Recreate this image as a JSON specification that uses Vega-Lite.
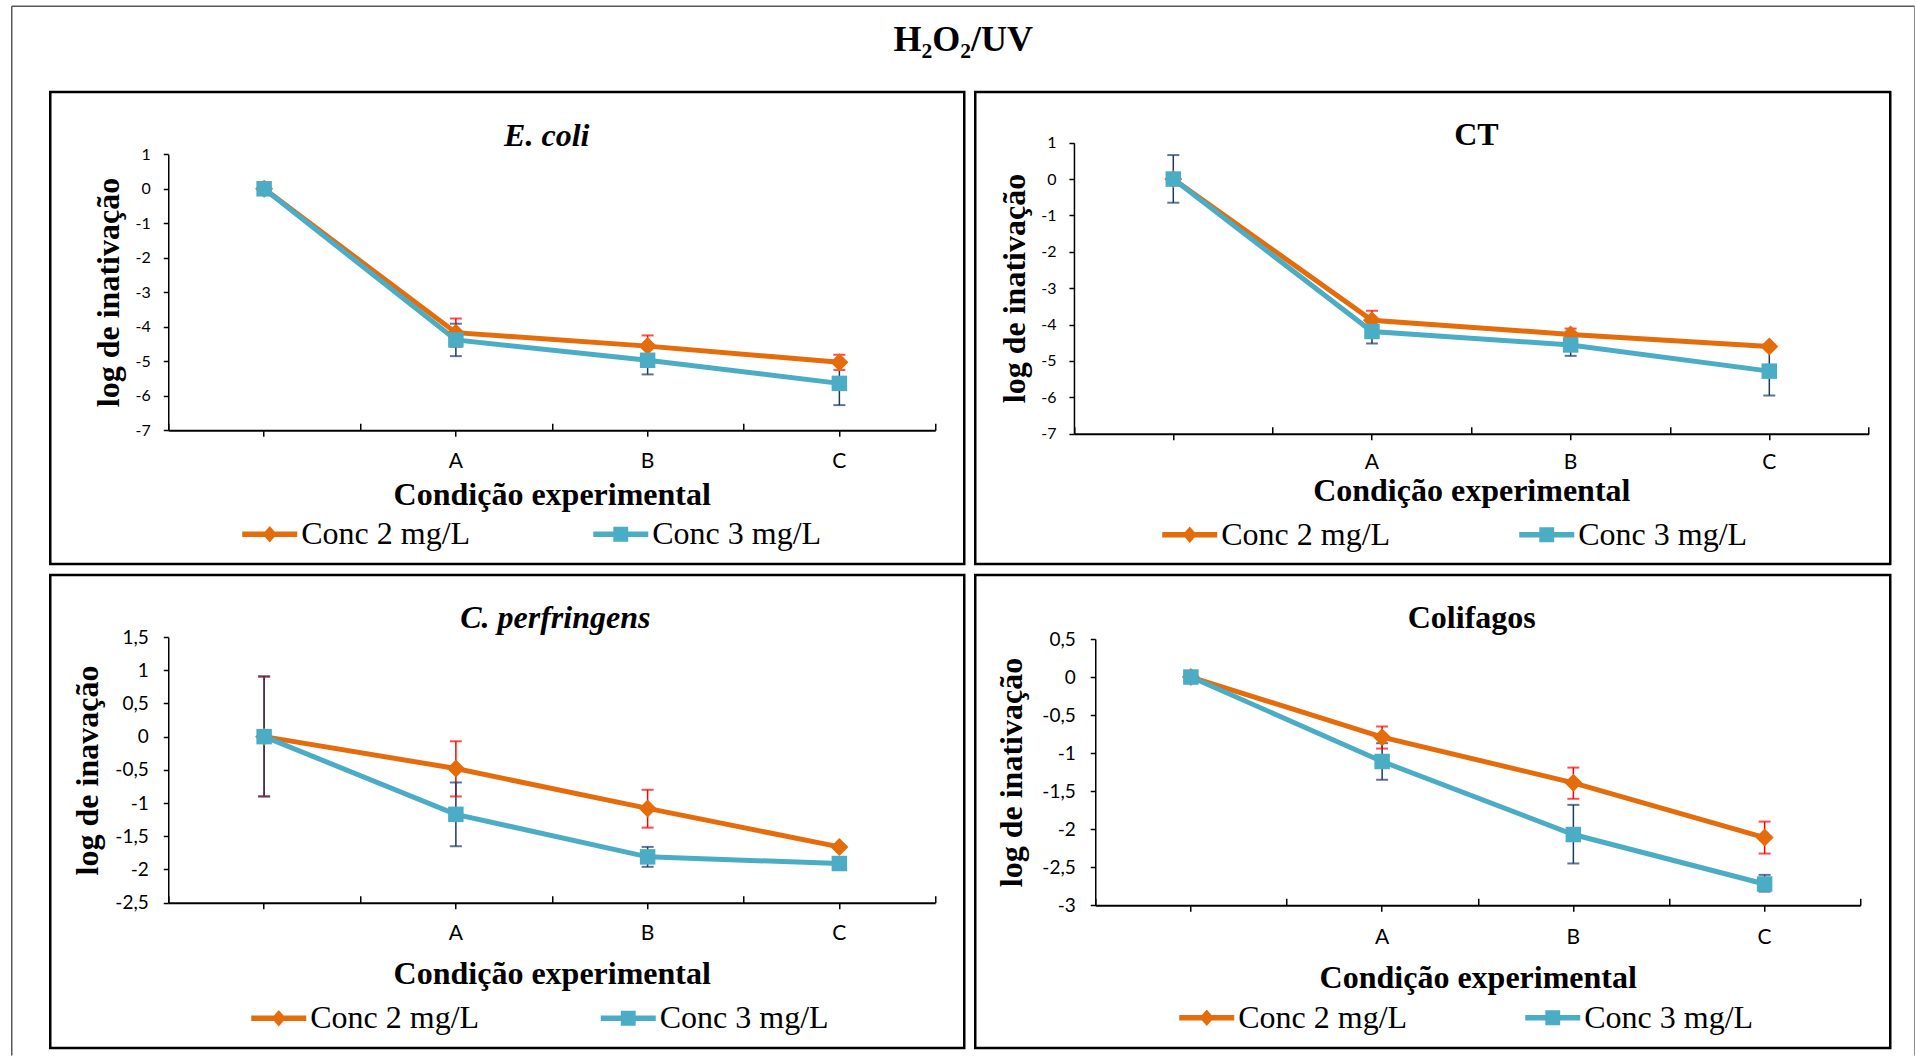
{
  "$schema": "https://vega.github.io/schema/vega-lite/v6.json",
  "background": "white",
  "padding": {"left": 9.25, "top": 4, "right": 0, "bottom": 0},
  "columns": 2,
  "bounds": "flush",
  "spacing": {"row": 11, "column": 11},
  "resolve": {"scale": {"color": "independent"}, "legend": {"color": "independent"}},
  "config": {
    "view": {"stroke": "black", "strokeWidth": 2.5},
    "axis": {"domainColor": "black", "tickColor": "black", "labelColor": "black", "titleColor": "black", "grid": false, "labelFont": "Lato", "tickWidth": 1.5},
    "legend": {"labelFont": "Liberation Serif", "labelFontSize": 32, "labelColor": "black"}
  },
  "concat": [
    {
      "width": 914, "height": 472,
      "data": {"values": [
        {"cond": "0", "series": "Conc 2 mg/L", "value": 0, "lo": -0.05, "hi": 0.05},
        {"cond": "A", "series": "Conc 2 mg/L", "value": -4.17, "lo": -4.58, "hi": -3.76},
        {"cond": "B", "series": "Conc 2 mg/L", "value": -4.56, "lo": -4.87, "hi": -4.25},
        {"cond": "C", "series": "Conc 2 mg/L", "value": -5.03, "lo": -5.25, "hi": -4.81},
        {"cond": "0", "series": "Conc 3 mg/L", "value": 0, "lo": -0.05, "hi": 0.05},
        {"cond": "A", "series": "Conc 3 mg/L", "value": -4.38, "lo": -4.85, "hi": -3.91},
        {"cond": "B", "series": "Conc 3 mg/L", "value": -4.97, "lo": -5.38, "hi": -4.56},
        {"cond": "C", "series": "Conc 3 mg/L", "value": -5.64, "lo": -6.27, "hi": -5.01}
      ]},
      "resolve": {"scale": {"x": "independent", "y": "independent"}, "axis": {"x": "independent", "y": "independent"}},
      "layer": [
        {
          "mark": {"type": "point", "opacity": 0},
          "encoding": {
            "x": {"field": "cond", "type": "nominal", "scale": {"type": "band", "domain": ["0", "A", "B", "C"], "range": [-39, 1864], "paddingInner": 0, "paddingOuter": 0},
                  "axis": {"orient": "top", "offset": 86.3, "ticks": false, "labels": false, "domain": true, "domainColor": "#595959", "domainWidth": 1.5, "title": "H₂O₂/UV", "titleX": 912.5, "titleY": 45.3, "titleAlign": "center", "titleBaseline": "alphabetic", "titleFont": "Liberation Serif", "titleFontSize": 36, "titleFontWeight": "bold"}},
            "y": {"field": "value", "type": "quantitative", "scale": {"domain": [0, 1], "range": [963, -86.3], "nice": false, "zero": false, "clamp": true},
                  "axis": {"orient": "left", "offset": 39, "ticks": false, "labels": false, "domain": true, "domainColor": "#595959", "domainWidth": 1.5, "title": null}}
          }
        },
        {
          "mark": {"type": "point", "opacity": 0},
          "encoding": {
            "x": {"field": "cond", "type": "nominal", "scale": {"type": "band", "domain": ["0", "A", "B", "C"], "range": [118, 885], "paddingInner": 0, "paddingOuter": 0},
                  "axis": {"orient": "bottom", "offset": -133.7, "tickBand": "extent", "tickSize": -7, "labels": false, "domain": false, "title": "E. coli", "titleX": 496, "titleY": -285.3, "titleAlign": "center", "titleBaseline": "alphabetic", "titleFont": "Liberation Serif", "titleFontSize": 32, "titleFontWeight": "bold", "titleFontStyle": "italic"}}
          }
        },
        {
          "encoding": {
            "x": {"field": "cond", "type": "nominal", "scale": {"type": "band", "domain": ["0", "A", "B", "C"], "range": [118, 885], "paddingInner": 0, "paddingOuter": 0},
                  "axis": {"orient": "bottom", "offset": -133.7, "title": "Condição experimental", "titleY": 74, "titleBaseline": "alphabetic", "titleFont": "Liberation Serif", "titleFontSize": 32, "titleFontWeight": "bold", "labelExpr": "datum.value == '0' ? '' : datum.value", "labelAngle": 0, "labelFontSize": 21, "labelBaseline": "alphabetic", "labelPadding": 31, "tickSize": 6, "domainWidth": 2}},
            "y": {"field": "value", "type": "quantitative", "scale": {"domain": [-7, 1], "range": [338.3, 62.3], "nice": false, "zero": false},
                  "axis": {"orient": "left", "offset": -118, "values": [-7, -6, -5, -4, -3, -2, -1, 0, 1], "labelExpr": "replace(toString(datum.value), '.', ',')", "labelFontSize": 16, "labelPadding": 13, "tickSize": 5, "domainWidth": 1.5, "title": "log de inativação", "titleX": -60, "titleY": 200, "titleBaseline": "middle", "titleFont": "Liberation Serif", "titleFontSize": 32, "titleFontWeight": "bold"}}
          },
          "layer": [
            {"mark": {"type": "rule", "strokeWidth": 1.5}, "encoding": {"y": {"field": "lo", "type": "quantitative"}, "y2": {"field": "hi"}, "color": {"condition": {"test": "datum.series == 'Conc 2 mg/L'", "value": "#FF0000"}, "value": "#1F3864"}}},
            {"mark": {"type": "tick", "size": 12, "thickness": 2}, "encoding": {"y": {"field": "lo", "type": "quantitative"}, "color": {"condition": {"test": "datum.series == 'Conc 2 mg/L'", "value": "#FF0000"}, "value": "#1F3864"}}},
            {"mark": {"type": "tick", "size": 12, "thickness": 2}, "encoding": {"y": {"field": "hi", "type": "quantitative"}, "color": {"condition": {"test": "datum.series == 'Conc 2 mg/L'", "value": "#FF0000"}, "value": "#1F3864"}}},
            {"mark": {"type": "line", "strokeWidth": 5}, "encoding": {"color": {"field": "series", "type": "nominal", "scale": {"domain": ["Conc 2 mg/L", "Conc 3 mg/L"], "range": ["#E46C0A", "#4BACC6"]},
              "legend": {"orient": "none", "legendX": 192, "legendY": 414.5, "direction": "horizontal", "title": null, "symbolSize": 3025, "columnPadding": 123, "labelOffset": 4, "padding": 0, "labelLimit": 0,
                "encode": {"symbols": {"update": {"shape": {"signal": "datum.value == 'Conc 2 mg/L' ? 'M-1,-0.1H1V0.1H-1Z M0,-0.3L0.26,0L0,0.3L-0.26,0Z' : 'M-1,-0.1H1V0.1H-1Z M-0.27,-0.27H0.27V0.27H-0.27Z'"}, "fill": {"signal": "datum.value == 'Conc 2 mg/L' ? '#E46C0A' : '#4BACC6'"}, "fillOpacity": {"value": 1}, "stroke": {"value": "transparent"}, "strokeWidth": {"value": 0}, "size": {"value": 3025}, "opacity": {"value": 1}}}}}}}},
            {"mark": {"type": "point", "filled": true, "opacity": 1, "strokeWidth": 0}, "encoding": {"color": {"field": "series", "type": "nominal", "scale": {"domain": ["Conc 2 mg/L", "Conc 3 mg/L"], "range": ["#E46C0A", "#4BACC6"]}, "legend": null}, "shape": {"field": "series", "type": "nominal", "scale": {"domain": ["Conc 2 mg/L", "Conc 3 mg/L"], "range": ["diamond", "square"]}, "legend": null}, "size": {"condition": {"test": "datum.series == 'Conc 2 mg/L'", "value": 324}, "value": 240}}}
          ]
        }
      ]
    },
    {
      "width": 915, "height": 472,
      "data": {"values": [
        {"cond": "0", "series": "Conc 2 mg/L", "value": 0, "lo": -0.05, "hi": 0.05},
        {"cond": "A", "series": "Conc 2 mg/L", "value": -3.88, "lo": -4.14, "hi": -3.62},
        {"cond": "B", "series": "Conc 2 mg/L", "value": -4.27, "lo": -4.43, "hi": -4.11},
        {"cond": "C", "series": "Conc 2 mg/L", "value": -4.6, "lo": -4.65, "hi": -4.55},
        {"cond": "0", "series": "Conc 3 mg/L", "value": 0, "lo": -0.65, "hi": 0.66},
        {"cond": "A", "series": "Conc 3 mg/L", "value": -4.19, "lo": -4.52, "hi": -3.86},
        {"cond": "B", "series": "Conc 3 mg/L", "value": -4.56, "lo": -4.86, "hi": -4.26},
        {"cond": "C", "series": "Conc 3 mg/L", "value": -5.28, "lo": -5.95, "hi": -4.61}
      ]},
      "resolve": {"scale": {"x": "independent", "y": "independent"}, "axis": {"x": "independent", "y": "independent"}},
      "layer": [
        {
          "mark": {"type": "point", "opacity": 0},
          "encoding": {
            "y": {"field": "value", "type": "quantitative", "scale": {"domain": [0, 1], "range": [963, -86.3], "nice": false, "zero": false, "clamp": true},
                  "axis": {"orient": "right", "offset": 24, "ticks": false, "labels": false, "domain": true, "domainColor": "#8c8c8c", "domainWidth": 1.5, "title": null}}
          }
        },
        {
          "mark": {"type": "point", "opacity": 0},
          "encoding": {
            "x": {"field": "cond", "type": "nominal", "scale": {"type": "band", "domain": ["0", "A", "B", "C"], "range": [98.7, 893.4], "paddingInner": 0, "paddingOuter": 0},
                  "axis": {"orient": "bottom", "offset": -130.3, "tickBand": "extent", "tickSize": -7, "labels": false, "domain": false, "title": "CT", "titleX": 500.7, "titleY": -289.7, "titleAlign": "center", "titleBaseline": "alphabetic", "titleFont": "Liberation Serif", "titleFontSize": 32, "titleFontWeight": "bold"}}
          }
        },
        {
          "encoding": {
            "x": {"field": "cond", "type": "nominal", "scale": {"type": "band", "domain": ["0", "A", "B", "C"], "range": [98.7, 893.4], "paddingInner": 0, "paddingOuter": 0},
                  "axis": {"orient": "bottom", "offset": -130.3, "title": "Condição experimental", "titleY": 66.5, "titleBaseline": "alphabetic", "titleFont": "Liberation Serif", "titleFontSize": 32, "titleFontWeight": "bold", "labelExpr": "datum.value == '0' ? '' : datum.value", "labelAngle": 0, "labelFontSize": 21, "labelBaseline": "alphabetic", "labelPadding": 29, "tickSize": 6, "domainWidth": 2}},
            "y": {"field": "value", "type": "quantitative", "scale": {"domain": [-7, 1], "range": [341.7, 50.7], "nice": false, "zero": false},
                  "axis": {"orient": "left", "offset": -98.7, "values": [-7, -6, -5, -4, -3, -2, -1, 0, 1], "labelExpr": "replace(toString(datum.value), '.', ',')", "labelFontSize": 16, "labelPadding": 13, "tickSize": 5, "domainWidth": 1.5, "title": "log de inativação", "titleX": -59, "titleY": 196, "titleBaseline": "middle", "titleFont": "Liberation Serif", "titleFontSize": 32, "titleFontWeight": "bold"}}
          },
          "layer": [
            {"mark": {"type": "rule", "strokeWidth": 1.5}, "encoding": {"y": {"field": "lo", "type": "quantitative"}, "y2": {"field": "hi"}, "color": {"condition": {"test": "datum.series == 'Conc 2 mg/L'", "value": "#FF0000"}, "value": "#1F3864"}}},
            {"mark": {"type": "tick", "size": 12, "thickness": 2}, "encoding": {"y": {"field": "lo", "type": "quantitative"}, "color": {"condition": {"test": "datum.series == 'Conc 2 mg/L'", "value": "#FF0000"}, "value": "#1F3864"}}},
            {"mark": {"type": "tick", "size": 12, "thickness": 2}, "encoding": {"y": {"field": "hi", "type": "quantitative"}, "color": {"condition": {"test": "datum.series == 'Conc 2 mg/L'", "value": "#FF0000"}, "value": "#1F3864"}}},
            {"mark": {"type": "line", "strokeWidth": 5}, "encoding": {"color": {"field": "series", "type": "nominal", "scale": {"domain": ["Conc 2 mg/L", "Conc 3 mg/L"], "range": ["#E46C0A", "#4BACC6"]},
              "legend": {"orient": "none", "legendX": 187, "legendY": 415, "direction": "horizontal", "title": null, "symbolSize": 3025, "columnPadding": 129, "labelOffset": 4, "padding": 0, "labelLimit": 0,
                "encode": {"symbols": {"update": {"shape": {"signal": "datum.value == 'Conc 2 mg/L' ? 'M-1,-0.1H1V0.1H-1Z M0,-0.3L0.26,0L0,0.3L-0.26,0Z' : 'M-1,-0.1H1V0.1H-1Z M-0.27,-0.27H0.27V0.27H-0.27Z'"}, "fill": {"signal": "datum.value == 'Conc 2 mg/L' ? '#E46C0A' : '#4BACC6'"}, "fillOpacity": {"value": 1}, "stroke": {"value": "transparent"}, "strokeWidth": {"value": 0}, "size": {"value": 3025}, "opacity": {"value": 1}}}}}}}},
            {"mark": {"type": "point", "filled": true, "opacity": 1, "strokeWidth": 0}, "encoding": {"color": {"field": "series", "type": "nominal", "scale": {"domain": ["Conc 2 mg/L", "Conc 3 mg/L"], "range": ["#E46C0A", "#4BACC6"]}, "legend": null}, "shape": {"field": "series", "type": "nominal", "scale": {"domain": ["Conc 2 mg/L", "Conc 3 mg/L"], "range": ["diamond", "square"]}, "legend": null}, "size": {"condition": {"test": "datum.series == 'Conc 2 mg/L'", "value": 324}, "value": 240}}}
          ]
        }
      ]
    },
    {
      "width": 914, "height": 473,
      "data": {"values": [
        {"cond": "0", "series": "Conc 2 mg/L", "value": 0, "lo": -0.9, "hi": 0.9},
        {"cond": "A", "series": "Conc 2 mg/L", "value": -0.48, "lo": -0.9, "hi": -0.07},
        {"cond": "B", "series": "Conc 2 mg/L", "value": -1.08, "lo": -1.37, "hi": -0.8},
        {"cond": "C", "series": "Conc 2 mg/L", "value": -1.66, "lo": -1.69, "hi": -1.63},
        {"cond": "0", "series": "Conc 3 mg/L", "value": 0, "lo": -0.9, "hi": 0.91},
        {"cond": "A", "series": "Conc 3 mg/L", "value": -1.17, "lo": -1.65, "hi": -0.69},
        {"cond": "B", "series": "Conc 3 mg/L", "value": -1.81, "lo": -1.96, "hi": -1.66},
        {"cond": "C", "series": "Conc 3 mg/L", "value": -1.91, "lo": -1.94, "hi": -1.88}
      ]},
      "resolve": {"scale": {"x": "independent"}, "axis": {"x": "independent"}},
      "layer": [
        {
          "mark": {"type": "point", "opacity": 0},
          "encoding": {
            "x": {"field": "cond", "type": "nominal", "scale": {"type": "band", "domain": ["0", "A", "B", "C"], "range": [118, 885], "paddingInner": 0, "paddingOuter": 0},
                  "axis": {"orient": "bottom", "offset": -145.3, "tickBand": "extent", "tickSize": -7, "labels": false, "domain": false, "title": "C. perfringens", "titleX": 504.5, "titleY": -275, "titleAlign": "center", "titleBaseline": "alphabetic", "titleFont": "Liberation Serif", "titleFontSize": 32, "titleFontWeight": "bold", "titleFontStyle": "italic"}}
          }
        },
        {
          "encoding": {
            "x": {"field": "cond", "type": "nominal", "scale": {"type": "band", "domain": ["0", "A", "B", "C"], "range": [118, 885], "paddingInner": 0, "paddingOuter": 0},
                  "axis": {"orient": "bottom", "offset": -145.3, "title": "Condição experimental", "titleY": 81, "titleBaseline": "alphabetic", "titleFont": "Liberation Serif", "titleFontSize": 32, "titleFontWeight": "bold", "labelExpr": "datum.value == '0' ? '' : datum.value", "labelAngle": 0, "labelFontSize": 21, "labelBaseline": "alphabetic", "labelPadding": 31, "tickSize": 6, "domainWidth": 2}},
            "y": {"field": "value", "type": "quantitative", "scale": {"domain": [-2.5, 1.5], "range": [327.7, 62], "nice": false, "zero": false},
                  "axis": {"orient": "left", "offset": -118, "values": [-2.5, -2, -1.5, -1, -0.5, 0, 0.5, 1, 1.5], "labelExpr": "replace(toString(datum.value), '.', ',')", "labelFontSize": 19, "labelPadding": 15, "tickSize": 5, "domainWidth": 1.5, "title": "log de inavação", "titleX": -81, "titleY": 195, "titleBaseline": "middle", "titleFont": "Liberation Serif", "titleFontSize": 32, "titleFontWeight": "bold"}}
          },
          "layer": [
            {"mark": {"type": "rule", "strokeWidth": 1.5}, "encoding": {"y": {"field": "lo", "type": "quantitative"}, "y2": {"field": "hi"}, "color": {"condition": {"test": "datum.series == 'Conc 2 mg/L'", "value": "#FF0000"}, "value": "#1F3864"}}},
            {"mark": {"type": "tick", "size": 12, "thickness": 2}, "encoding": {"y": {"field": "lo", "type": "quantitative"}, "color": {"condition": {"test": "datum.series == 'Conc 2 mg/L'", "value": "#FF0000"}, "value": "#1F3864"}}},
            {"mark": {"type": "tick", "size": 12, "thickness": 2}, "encoding": {"y": {"field": "hi", "type": "quantitative"}, "color": {"condition": {"test": "datum.series == 'Conc 2 mg/L'", "value": "#FF0000"}, "value": "#1F3864"}}},
            {"mark": {"type": "line", "strokeWidth": 5}, "encoding": {"color": {"field": "series", "type": "nominal", "scale": {"domain": ["Conc 2 mg/L", "Conc 3 mg/L"], "range": ["#E46C0A", "#4BACC6"]},
              "legend": {"orient": "none", "legendX": 201, "legendY": 415.5, "direction": "horizontal", "title": null, "symbolSize": 3025, "columnPadding": 121.5, "labelOffset": 4, "padding": 0, "labelLimit": 0,
                "encode": {"symbols": {"update": {"shape": {"signal": "datum.value == 'Conc 2 mg/L' ? 'M-1,-0.1H1V0.1H-1Z M0,-0.3L0.26,0L0,0.3L-0.26,0Z' : 'M-1,-0.1H1V0.1H-1Z M-0.27,-0.27H0.27V0.27H-0.27Z'"}, "fill": {"signal": "datum.value == 'Conc 2 mg/L' ? '#E46C0A' : '#4BACC6'"}, "fillOpacity": {"value": 1}, "stroke": {"value": "transparent"}, "strokeWidth": {"value": 0}, "size": {"value": 3025}, "opacity": {"value": 1}}}}}}}},
            {"mark": {"type": "point", "filled": true, "opacity": 1, "strokeWidth": 0}, "encoding": {"color": {"field": "series", "type": "nominal", "scale": {"domain": ["Conc 2 mg/L", "Conc 3 mg/L"], "range": ["#E46C0A", "#4BACC6"]}, "legend": null}, "shape": {"field": "series", "type": "nominal", "scale": {"domain": ["Conc 2 mg/L", "Conc 3 mg/L"], "range": ["diamond", "square"]}, "legend": null}, "size": {"condition": {"test": "datum.series == 'Conc 2 mg/L'", "value": 324}, "value": 240}}}
          ]
        }
      ]
    },
    {
      "width": 915, "height": 473,
      "data": {"values": [
        {"cond": "0", "series": "Conc 2 mg/L", "value": 0, "lo": -0.05, "hi": 0.05},
        {"cond": "A", "series": "Conc 2 mg/L", "value": -0.79, "lo": -0.94, "hi": -0.65},
        {"cond": "B", "series": "Conc 2 mg/L", "value": -1.39, "lo": -1.6, "hi": -1.19},
        {"cond": "C", "series": "Conc 2 mg/L", "value": -2.11, "lo": -2.32, "hi": -1.9},
        {"cond": "0", "series": "Conc 3 mg/L", "value": 0, "lo": -0.03, "hi": 0.03},
        {"cond": "A", "series": "Conc 3 mg/L", "value": -1.11, "lo": -1.35, "hi": -0.87},
        {"cond": "B", "series": "Conc 3 mg/L", "value": -2.07, "lo": -2.45, "hi": -1.68},
        {"cond": "C", "series": "Conc 3 mg/L", "value": -2.72, "lo": -2.82, "hi": -2.6}
      ]},
      "resolve": {"scale": {"x": "independent"}, "axis": {"x": "independent"}},
      "layer": [
        {
          "mark": {"type": "point", "opacity": 0},
          "encoding": {
            "x": {"field": "cond", "type": "nominal", "scale": {"type": "band", "domain": ["0", "A", "B", "C"], "range": [120, 885], "paddingInner": 0, "paddingOuter": 0},
                  "axis": {"orient": "bottom", "offset": -142.7, "tickBand": "extent", "tickSize": -7, "labels": false, "domain": false, "title": "Colifagos", "titleX": 496, "titleY": -277.6, "titleAlign": "center", "titleBaseline": "alphabetic", "titleFont": "Liberation Serif", "titleFontSize": 32, "titleFontWeight": "bold"}}
          }
        },
        {
          "encoding": {
            "x": {"field": "cond", "type": "nominal", "scale": {"type": "band", "domain": ["0", "A", "B", "C"], "range": [120, 885], "paddingInner": 0, "paddingOuter": 0},
                  "axis": {"orient": "bottom", "offset": -142.7, "title": "Condição experimental", "titleY": 82, "titleBaseline": "alphabetic", "titleFont": "Liberation Serif", "titleFontSize": 32, "titleFontWeight": "bold", "labelExpr": "datum.value == '0' ? '' : datum.value", "labelAngle": 0, "labelFontSize": 21, "labelBaseline": "alphabetic", "labelPadding": 32, "tickSize": 6, "domainWidth": 2}},
            "y": {"field": "value", "type": "quantitative", "scale": {"domain": [-3, 0.5], "range": [330.3, 64], "nice": false, "zero": false},
                  "axis": {"orient": "left", "offset": -120, "values": [-3, -2.5, -2, -1.5, -1, -0.5, 0, 0.5], "labelExpr": "replace(toString(datum.value), '.', ',')", "labelFontSize": 19, "labelPadding": 15, "tickSize": 5, "domainWidth": 1.5, "title": "log de inativação", "titleX": -84, "titleY": 197, "titleBaseline": "middle", "titleFont": "Liberation Serif", "titleFontSize": 32, "titleFontWeight": "bold"}}
          },
          "layer": [
            {"mark": {"type": "rule", "strokeWidth": 1.5}, "encoding": {"y": {"field": "lo", "type": "quantitative"}, "y2": {"field": "hi"}, "color": {"condition": {"test": "datum.series == 'Conc 2 mg/L'", "value": "#FF0000"}, "value": "#1F3864"}}},
            {"mark": {"type": "tick", "size": 12, "thickness": 2}, "encoding": {"y": {"field": "lo", "type": "quantitative"}, "color": {"condition": {"test": "datum.series == 'Conc 2 mg/L'", "value": "#FF0000"}, "value": "#1F3864"}}},
            {"mark": {"type": "tick", "size": 12, "thickness": 2}, "encoding": {"y": {"field": "hi", "type": "quantitative"}, "color": {"condition": {"test": "datum.series == 'Conc 2 mg/L'", "value": "#FF0000"}, "value": "#1F3864"}}},
            {"mark": {"type": "line", "strokeWidth": 5}, "encoding": {"color": {"field": "series", "type": "nominal", "scale": {"domain": ["Conc 2 mg/L", "Conc 3 mg/L"], "range": ["#E46C0A", "#4BACC6"]},
              "legend": {"orient": "none", "legendX": 204, "legendY": 415, "direction": "horizontal", "title": null, "symbolSize": 3025, "columnPadding": 118, "labelOffset": 4, "padding": 0, "labelLimit": 0,
                "encode": {"symbols": {"update": {"shape": {"signal": "datum.value == 'Conc 2 mg/L' ? 'M-1,-0.1H1V0.1H-1Z M0,-0.3L0.26,0L0,0.3L-0.26,0Z' : 'M-1,-0.1H1V0.1H-1Z M-0.27,-0.27H0.27V0.27H-0.27Z'"}, "fill": {"signal": "datum.value == 'Conc 2 mg/L' ? '#E46C0A' : '#4BACC6'"}, "fillOpacity": {"value": 1}, "stroke": {"value": "transparent"}, "strokeWidth": {"value": 0}, "size": {"value": 3025}, "opacity": {"value": 1}}}}}}}},
            {"mark": {"type": "point", "filled": true, "opacity": 1, "strokeWidth": 0}, "encoding": {"color": {"field": "series", "type": "nominal", "scale": {"domain": ["Conc 2 mg/L", "Conc 3 mg/L"], "range": ["#E46C0A", "#4BACC6"]}, "legend": null}, "shape": {"field": "series", "type": "nominal", "scale": {"domain": ["Conc 2 mg/L", "Conc 3 mg/L"], "range": ["diamond", "square"]}, "legend": null}, "size": {"condition": {"test": "datum.series == 'Conc 2 mg/L'", "value": 324}, "value": 240}}}
          ]
        }
      ]
    }
  ]
}
